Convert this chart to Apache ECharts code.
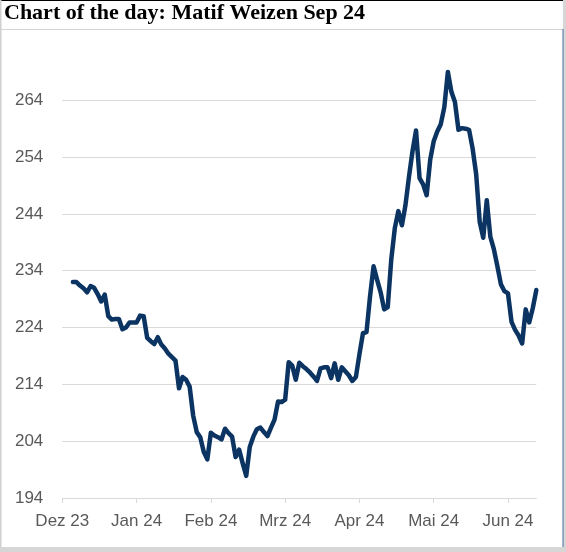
<!DOCTYPE html>
<html><head><meta charset="utf-8">
<script src="https://cdn.jsdelivr.net/npm/echarts@6/dist/echarts.min.js"></script>
<style>html,body{margin:0;padding:0;background:#fff}#c{width:566px;height:552px}</style>
</head><body><div id="c"></div>
<script>
const titleText = 'Chart of the day: Matif Weizen Sep 24';
const tickLabels = ['Dez 23', 'Jan 24', 'Feb 24', 'Mrz 24', 'Apr 24', 'Mai 24', 'Jun 24'];
const tickPositions = [0, 21, 42, 63, 84, 105, 126];
const yTicks = [194, 204, 214, 224, 234, 244, 254, 264];
const firstIndex = 3;
const prices = [
  232.0, 232.0, 231.4, 230.9, 230.2, 231.3, 231.0, 229.9, 228.6, 229.8,
  226.0, 225.4, 225.5, 225.5, 223.7, 224.0, 224.9, 224.9, 224.9, 226.1,
  226.0, 222.2, 221.6, 221.1, 222.3, 221.0, 220.3, 219.4, 218.8, 218.2,
  213.3, 215.3, 214.8, 213.6, 208.5, 205.6, 204.7, 202.1, 200.8, 205.5,
  205.0, 204.7, 204.3, 206.2, 205.4, 204.8, 201.2, 202.5, 200.1, 197.9,
  203.0, 204.8, 206.1, 206.4, 205.6, 204.9, 206.4, 207.8, 211.0, 210.9,
  211.3, 217.9, 217.3, 214.8, 217.8, 217.2, 216.7, 216.1, 215.4, 214.6,
  216.8, 217.0, 217.0, 215.1, 217.7, 214.8, 217.0, 216.3, 215.6, 214.6,
  215.3, 219.3, 223.0, 223.2, 229.5, 234.8, 232.4, 230.2, 227.2, 227.6,
  236.0, 241.5, 244.5, 242.0, 245.5, 250.5, 255.0, 258.7, 250.3, 249.2,
  247.3, 253.5, 256.8, 258.5, 259.8, 262.8, 269.0, 265.5, 263.7, 258.8,
  259.1, 259.0, 258.8, 255.5, 251.0, 242.6, 239.8, 246.4, 240.0, 237.8,
  234.8, 231.6, 230.4, 230.0, 225.0, 223.6, 222.6, 221.2, 227.2, 224.9,
  227.4, 230.6
];
const seriesData = prices.map((v, i) => [firstIndex + i, v]);
const xMax = firstIndex + prices.length - 1;

const chart = echarts.init(document.getElementById('c'), null, {renderer: 'canvas'});
const labelFont = {color: '#595959', fontSize: 17, fontFamily: 'Liberation Sans, Arial, sans-serif'};
chart.setOption({
  animation: false,
  backgroundColor: '#fff',
  title: {
    text: titleText, left: 4, top: 2, padding: 0,
    textStyle: {fontFamily: 'Liberation Serif, Times New Roman, serif', fontWeight: 'bold', fontSize: 22, color: '#000'}
  },
  grid: {left: 62.3, right: 29.7, top: 100.3, bottom: 54, containLabel: false},
  xAxis: {
    type: 'value', min: 0, max: xMax,
    axisLine: {show: true, lineStyle: {color: '#d9d9d9', width: 1}},
    axisTick: {show: true, customValues: tickPositions, length: 5, lineStyle: {color: '#d9d9d9'}},
    axisLabel: Object.assign({
      customValues: tickPositions, margin: 15,
      formatter: v => tickLabels[tickPositions.indexOf(v)] || ''
    }, labelFont),
    splitLine: {show: false}
  },
  yAxis: {
    type: 'value', min: yTicks[0], max: yTicks[yTicks.length - 1], interval: 10,
    axisLine: {show: false}, axisTick: {show: false},
    axisLabel: Object.assign({margin: 19}, labelFont),
    splitLine: {show: true, lineStyle: {color: '#d9d9d9', width: 1}}
  },
  series: [{
    type: 'line', data: seriesData, showSymbol: false, clip: false,
    lineStyle: {color: '#0b3462', width: 4.5, join: 'round', cap: 'round'},
    itemStyle: {color: '#0b3462'}
  }],
  graphic: [
    {type: 'rect', shape: {x: 0, y: 0, width: 566, height: 1}, style: {fill: '#000'}, silent: true},
    {type: 'rect', shape: {x: 0, y: 29, width: 563, height: 1}, style: {fill: '#d4d4d4'}, silent: true},
    {type: 'rect', shape: {x: 0, y: 0, width: 1.5, height: 552}, style: {fill: '#d0d0d0'}, silent: true},
    {type: 'rect', shape: {x: 563, y: 0, width: 3, height: 552}, style: {fill: '#d6d6d6'}, silent: true},
    {type: 'rect', shape: {x: 562.5, y: 29, width: 1, height: 518}, style: {fill: '#4a6fa0'}, silent: true},
    {type: 'rect', shape: {x: 0, y: 547, width: 566, height: 5}, style: {fill: '#d6d6d6'}, silent: true}
  ]
});
</script>
</body></html>
